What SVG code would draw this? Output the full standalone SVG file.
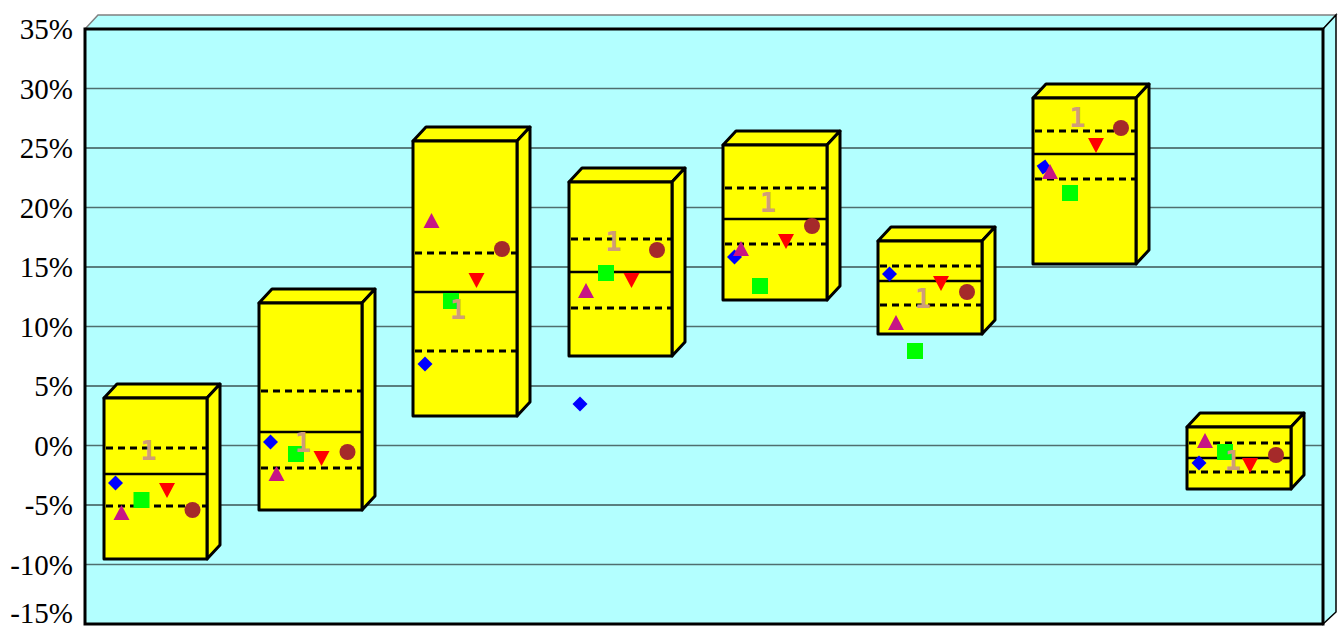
<svg xmlns="http://www.w3.org/2000/svg" width="1338" height="629" viewBox="0 0 1338 629">
<defs>
<style>
.g1{stroke:#4f6f6f;stroke-width:1.5}
.g2{stroke:#000;stroke-width:1.2}
.face{fill:#ffff00;stroke:#000;stroke-width:3;stroke-linejoin:round}
.med{stroke:#000;stroke-width:2.5}
.q{stroke:#000;stroke-width:2.8;stroke-dasharray:7,5}
.dia{fill:#0000ff}
.sq{fill:#00ff00}
.up{fill:#c71585}
.dn{fill:#ff0000}
.ci{fill:#a52a2a}
</style>
<path id="mDia" d="M0,-7.5 L7.5,0 L0,7.5 L-7.5,0Z"/>
<path id="mSq" d="M-8,-8 H8 V8 H-8Z"/>
<path id="mUp" d="M0,-8 L8,7 L-8,7Z"/>
<path id="mDn" d="M-8,-7 L8,-7 L0,8Z"/>
</defs>
<rect width="1338" height="629" fill="#fff"/>
<g id="plot">
<polygon points="85,29 98,15 1336,15 1323,29" fill="#b3ffff" stroke="#808080" stroke-width="1.5"/>
<polygon points="1323,29 1336,15 1336,612 1323,624" fill="#b3ffff" stroke="#000" stroke-width="1.5"/>
<rect x="85" y="29" width="1238" height="595" fill="#b3ffff"/>
<line class="g1" x1="85" y1="88.5" x2="1323" y2="88.5"/>
<line class="g2" x1="85" y1="148" x2="1323" y2="148"/>
<line class="g1" x1="85" y1="207.5" x2="1323" y2="207.5"/>
<line class="g2" x1="85" y1="267" x2="1323" y2="267"/>
<line class="g1" x1="85" y1="326.5" x2="1323" y2="326.5"/>
<line class="g2" x1="85" y1="386" x2="1323" y2="386"/>
<line class="g1" x1="85" y1="445.5" x2="1323" y2="445.5"/>
<line class="g2" x1="85" y1="505" x2="1323" y2="505"/>
<line class="g1" x1="85" y1="564.5" x2="1323" y2="564.5"/>
<rect x="85" y="29" width="1238" height="595" fill="none" stroke="#000" stroke-width="3"/>
<line x1="83.5" y1="29" x2="83.5" y2="624" stroke="#808080" stroke-width="1"/>
</g>
<g id="yaxis" font-family="'Liberation Serif', 'Times New Roman', serif" font-size="29" fill="#000" text-anchor="end">
<text x="73" y="39">35%</text>
<text x="73" y="98.5">30%</text>
<text x="73" y="158">25%</text>
<text x="73" y="217.5">20%</text>
<text x="73" y="277">15%</text>
<text x="73" y="336.5">10%</text>
<text x="73" y="396">5%</text>
<text x="73" y="455.5">0%</text>
<text x="73" y="515">-5%</text>
<text x="73" y="574.5">-10%</text>
<text x="73" y="623">-15%</text>
</g>
<g id="box1">
<polygon class="face" points="104,398 117,384 220,384 207,398"/>
<polygon class="face" points="207,398 220,384 220,545 207,559"/>
<rect class="face" x="104" y="398" width="103" height="161"/>
<line class="med" x1="104" y1="474" x2="207" y2="474"/>
<line class="q" x1="106" y1="448" x2="207" y2="448"/>
<line class="q" x1="106" y1="506" x2="207" y2="506"/>
<use href="#mDia" class="dia" x="115.5" y="483"/>
<use href="#mSq" class="sq" x="141.5" y="500"/>
<use href="#mUp" class="up" x="121.5" y="513"/>
<use href="#mDn" class="dn" x="167" y="490"/>
<circle class="ci" cx="192.5" cy="510" r="8"/>
</g>
<g id="box2">
<polygon class="face" points="259,303 272,289 375,289 362,303"/>
<polygon class="face" points="362,303 375,289 375,496 362,510"/>
<rect class="face" x="259" y="303" width="103" height="207"/>
<line class="med" x1="259" y1="432" x2="362" y2="432"/>
<line class="q" x1="261" y1="391" x2="362" y2="391"/>
<line class="q" x1="261" y1="468" x2="362" y2="468"/>
<use href="#mDia" class="dia" x="270.5" y="442"/>
<use href="#mSq" class="sq" x="296" y="454"/>
<use href="#mUp" class="up" x="276.5" y="474"/>
<use href="#mDn" class="dn" x="321.5" y="458"/>
<circle class="ci" cx="347.5" cy="452" r="8"/>
</g>
<g id="box3">
<polygon class="face" points="413,141 426,127 530,127 517,141"/>
<polygon class="face" points="517,141 530,127 530,402 517,416"/>
<rect class="face" x="413" y="141" width="104" height="275"/>
<line class="med" x1="413" y1="292" x2="517" y2="292"/>
<line class="q" x1="415" y1="253" x2="517" y2="253"/>
<line class="q" x1="415" y1="351" x2="517" y2="351"/>
<use href="#mDia" class="dia" x="425" y="364"/>
<use href="#mSq" class="sq" x="451" y="301"/>
<use href="#mUp" class="up" x="431.5" y="221"/>
<use href="#mDn" class="dn" x="476.5" y="280"/>
<circle class="ci" cx="502" cy="249" r="8"/>
</g>
<g id="box4">
<polygon class="face" points="569,182 582,168 685,168 672,182"/>
<polygon class="face" points="672,182 685,168 685,342 672,356"/>
<rect class="face" x="569" y="182" width="103" height="174"/>
<line class="med" x1="569" y1="272" x2="672" y2="272"/>
<line class="q" x1="571" y1="239" x2="672" y2="239"/>
<line class="q" x1="571" y1="308" x2="672" y2="308"/>
<use href="#mDia" class="dia" x="580" y="404"/>
<use href="#mSq" class="sq" x="606" y="273"/>
<use href="#mUp" class="up" x="586" y="291"/>
<use href="#mDn" class="dn" x="631.5" y="280"/>
<circle class="ci" cx="657" cy="250" r="8"/>
</g>
<g id="box5">
<polygon class="face" points="723,145 736,131 840,131 827,145"/>
<polygon class="face" points="827,145 840,131 840,286 827,300"/>
<rect class="face" x="723" y="145" width="104" height="155"/>
<line class="med" x1="723" y1="219" x2="827" y2="219"/>
<line class="q" x1="725" y1="188" x2="827" y2="188"/>
<line class="q" x1="725" y1="244" x2="827" y2="244"/>
<use href="#mDia" class="dia" x="734.5" y="257"/>
<use href="#mSq" class="sq" x="760" y="286"/>
<use href="#mUp" class="up" x="741" y="249"/>
<use href="#mDn" class="dn" x="786" y="241"/>
<circle class="ci" cx="812" cy="226" r="8"/>
</g>
<g id="box6">
<polygon class="face" points="878,241 891,227 995,227 982,241"/>
<polygon class="face" points="982,241 995,227 995,320 982,334"/>
<rect class="face" x="878" y="241" width="104" height="93"/>
<line class="med" x1="878" y1="281" x2="982" y2="281"/>
<line class="q" x1="880" y1="266" x2="982" y2="266"/>
<line class="q" x1="880" y1="305" x2="982" y2="305"/>
<use href="#mDia" class="dia" x="889.5" y="274"/>
<use href="#mSq" class="sq" x="915" y="351"/>
<use href="#mUp" class="up" x="896" y="323"/>
<use href="#mDn" class="dn" x="941" y="283"/>
<circle class="ci" cx="967" cy="292" r="8"/>
</g>
<g id="box7">
<polygon class="face" points="1033,98 1046,84 1149,84 1136,98"/>
<polygon class="face" points="1136,98 1149,84 1149,250 1136,264"/>
<rect class="face" x="1033" y="98" width="103" height="166"/>
<line class="med" x1="1033" y1="154" x2="1136" y2="154"/>
<line class="q" x1="1035" y1="131" x2="1136" y2="131"/>
<line class="q" x1="1035" y1="179" x2="1136" y2="179"/>
<use href="#mDia" class="dia" x="1044" y="167" transform="rotate(10 1044 167)"/>
<use href="#mSq" class="sq" x="1070" y="193"/>
<use href="#mUp" class="up" x="1050" y="172"/>
<use href="#mDn" class="dn" x="1096" y="145"/>
<circle class="ci" cx="1121" cy="128" r="8"/>
</g>
<g id="box8">
<polygon class="face" points="1187,427 1200,413 1304,413 1291,427"/>
<polygon class="face" points="1291,427 1304,413 1304,475 1291,489"/>
<rect class="face" x="1187" y="427" width="104" height="62"/>
<line class="med" x1="1187" y1="458" x2="1291" y2="458"/>
<line class="q" x1="1189" y1="443" x2="1291" y2="443"/>
<line class="q" x1="1189" y1="472" x2="1291" y2="472"/>
<use href="#mDia" class="dia" x="1199" y="463"/>
<use href="#mSq" class="sq" x="1225" y="452"/>
<use href="#mUp" class="up" x="1205" y="441"/>
<use href="#mDn" class="dn" x="1250" y="465"/>
<circle class="ci" cx="1276" cy="455" r="8"/>
</g>
<g id="labels" font-family="'DejaVu Sans Mono', monospace" font-size="27" font-weight="bold" fill="#cf9d78" text-anchor="middle">
<text x="148.5" y="460">1</text>
<text x="303" y="451.5">1</text>
<text x="458" y="319">1</text>
<text x="613.5" y="251">1</text>
<text x="768" y="211.5">1</text>
<text x="923" y="307.5">1</text>
<text x="1077.5" y="127">1</text>
<text x="1233" y="470">1</text>
</g>
</svg>
